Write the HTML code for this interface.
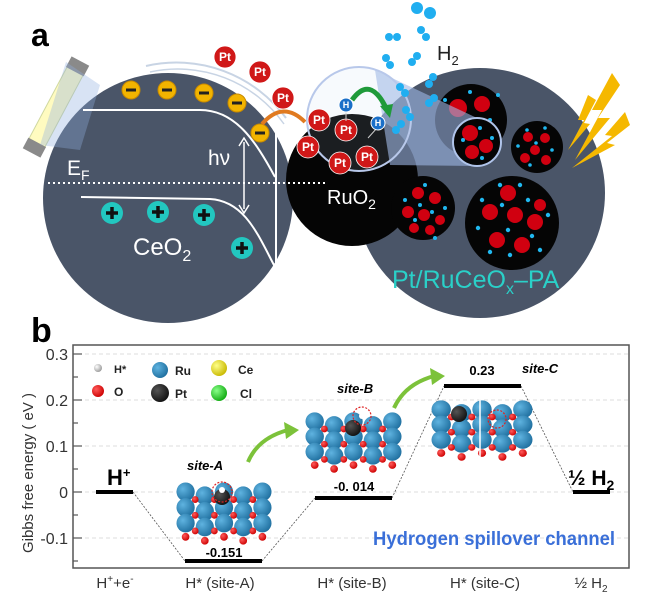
<!DOCTYPE html>
<html><head><meta charset="utf-8"><style>
html,body{margin:0;padding:0;background:#fff;}
svg{display:block;font-family:"Liberation Sans",Arial,sans-serif;}
</style></head><body>
<svg width="650" height="599" viewBox="0 0 650 599" xmlns="http://www.w3.org/2000/svg">
<defs>
<radialGradient id="gb" cx="0.35" cy="0.35" r="0.7"><stop offset="0" stop-color="#5fb3e0"/><stop offset="1" stop-color="#1f6f9f"/></radialGradient>
<radialGradient id="gr" cx="0.35" cy="0.35" r="0.7"><stop offset="0" stop-color="#ff5a5a"/><stop offset="1" stop-color="#c00"/></radialGradient>
<radialGradient id="gk" cx="0.35" cy="0.35" r="0.7"><stop offset="0" stop-color="#555"/><stop offset="1" stop-color="#111"/></radialGradient>
<radialGradient id="gy" cx="0.35" cy="0.35" r="0.7"><stop offset="0" stop-color="#ffff88"/><stop offset="1" stop-color="#c8b800"/></radialGradient>
<radialGradient id="gg" cx="0.35" cy="0.35" r="0.7"><stop offset="0" stop-color="#8f8"/><stop offset="1" stop-color="#1a1"/></radialGradient>
<radialGradient id="gw" cx="0.35" cy="0.35" r="0.7"><stop offset="0" stop-color="#fff"/><stop offset="1" stop-color="#999"/></radialGradient>
<g id="blk">
  <g fill="url(#gb)">
    <circle cx="10" cy="12" r="9.5"/><circle cx="30" cy="16" r="9.5"/><circle cx="50" cy="12" r="9.5"/><circle cx="70" cy="16" r="9.5"/><circle cx="90" cy="12" r="9.5"/>
    <circle cx="10" cy="28" r="9.5"/><circle cx="30" cy="32" r="9.5"/><circle cx="50" cy="28" r="9.5"/><circle cx="70" cy="32" r="9.5"/><circle cx="90" cy="28" r="9.5"/>
    <circle cx="10" cy="44" r="9.5"/><circle cx="30" cy="48" r="9.5"/><circle cx="50" cy="44" r="9.5"/><circle cx="70" cy="48" r="9.5"/><circle cx="90" cy="44" r="9.5"/>
  </g>
  <g fill="url(#gr)">
    <circle cx="20" cy="20" r="3.5"/><circle cx="40" cy="20" r="3.5"/><circle cx="60" cy="20" r="3.5"/><circle cx="80" cy="20" r="3.5"/>
    <circle cx="20" cy="36" r="3.5"/><circle cx="40" cy="36" r="3.5"/><circle cx="60" cy="36" r="3.5"/><circle cx="80" cy="36" r="3.5"/>
    <circle cx="20" cy="52" r="3.5"/><circle cx="40" cy="52" r="3.5"/><circle cx="60" cy="52" r="3.5"/><circle cx="80" cy="52" r="3.5"/>
    <circle cx="10" cy="58" r="4"/><circle cx="30" cy="62" r="4"/><circle cx="50" cy="58" r="4"/><circle cx="70" cy="62" r="4"/><circle cx="90" cy="58" r="4"/>
  </g>
</g>
</defs>

<!-- PANEL A -->
<text x="31" y="46" font-size="32" font-weight="bold">a</text>

<path d="M146,66 A136,136 0 0 1 286,118" fill="none" stroke="#c8d4e4" stroke-width="2"/>
<path d="M150,72 A130,130 0 0 1 284,124" fill="none" stroke="#c8d4e4" stroke-width="1.5"/>

<circle cx="480" cy="193" r="125" fill="#4a5568"/>
<circle cx="168" cy="198" r="125" fill="#4a5568"/>
<circle cx="352" cy="180" r="66" fill="#050505"/>

<!-- lamp -->
<g transform="translate(56,107) rotate(28)">
 <rect x="-9" y="-42" width="18" height="84" fill="#fffbc0" stroke="#cfd8a0"/>
 <rect x="-10" y="-52" width="20" height="12" fill="#8a8a8a"/>
 <rect x="-10" y="40" width="20" height="12" fill="#8a8a8a"/>
</g>
<path d="M66,62 L100,85 L80,150 L40,145 Z" fill="#8fb0e0" opacity="0.35"/>

<!-- bands -->
<path d="M83,110 L200,110 C235,110 255,140 275,177" fill="none" stroke="#fff" stroke-width="2"/>
<path d="M81,197 L210,199 C245,201 258,235 275,267" fill="none" stroke="#fff" stroke-width="2"/>
<line x1="276" y1="130" x2="276" y2="267" stroke="#fff" stroke-width="2"/>
<line x1="48" y1="183" x2="327" y2="183" stroke="#fff" stroke-width="2" stroke-dasharray="2,3"/>
<line x1="244" y1="142" x2="244" y2="209" stroke="#fff" stroke-width="1.5"/>
<path d="M239,146 L244,138 L249,146 M239,205 L244,213 L249,205" fill="none" stroke="#fff" stroke-width="1.5"/>
<text x="208" y="165" font-size="21" fill="#fff">hν</text>
<text x="67" y="175" font-size="21" fill="#fff">E<tspan font-size="14" dy="5">F</tspan></text>
<text x="133" y="255" font-size="24" fill="#fff">CeO<tspan font-size="16" dy="6">2</tspan></text>
<text x="327" y="204" font-size="20" fill="#fff">RuO<tspan font-size="14" dy="5">2</tspan></text>

<g fill="#f2b400" stroke="#c88a00">
<circle cx="131" cy="90" r="9"/><circle cx="167" cy="90" r="9"/><circle cx="204" cy="93" r="9"/><circle cx="237" cy="103" r="9"/><circle cx="260" cy="133" r="9"/>
</g>
<g stroke="#222" stroke-width="3"><line x1="126" y1="90" x2="136" y2="90"/><line x1="162" y1="90" x2="172" y2="90"/><line x1="199" y1="93" x2="209" y2="93"/><line x1="232" y1="103" x2="242" y2="103"/><line x1="255" y1="133" x2="265" y2="133"/></g>
<g fill="#22c7c0"><circle cx="112" cy="213" r="11"/><circle cx="158" cy="212" r="11"/><circle cx="204" cy="215" r="11"/><circle cx="242" cy="248" r="11"/></g>
<g stroke="#111" stroke-width="3.5">
<path d="M106,213 h12 M112,207 v12"/><path d="M152,212 h12 M158,206 v12"/><path d="M198,215 h12 M204,209 v12"/><path d="M236,248 h12 M242,242 v12"/>
</g>

<path d="M262,124 Q283,100 305,122" fill="none" stroke="#e07a20" stroke-width="4"/>

<g>
<circle cx="471" cy="120" r="36" fill="#050505"/>
<circle cx="537" cy="147" r="26" fill="#050505"/>
<circle cx="423" cy="208" r="32" fill="#050505"/>
<circle cx="512" cy="223" r="47" fill="#050505"/>
<g fill="#d00010">
<circle cx="458" cy="108" r="9"/><circle cx="482" cy="104" r="8"/><circle cx="470" cy="128" r="8"/>
<circle cx="528" cy="137" r="5"/><circle cx="545" cy="138" r="5"/><circle cx="535" cy="150" r="5"/><circle cx="525" cy="158" r="5"/><circle cx="546" cy="160" r="5"/>
<circle cx="418" cy="193" r="6"/><circle cx="435" cy="198" r="6"/><circle cx="408" cy="212" r="6"/><circle cx="424" cy="215" r="6"/><circle cx="440" cy="220" r="5"/><circle cx="414" cy="228" r="5"/><circle cx="430" cy="230" r="5"/>
<circle cx="508" cy="193" r="8"/><circle cx="490" cy="212" r="8"/><circle cx="515" cy="215" r="8"/><circle cx="535" cy="222" r="8"/><circle cx="497" cy="240" r="8"/><circle cx="522" cy="245" r="8"/><circle cx="540" cy="205" r="6"/>
</g>
<g fill="#20b8f0">
<circle cx="445" cy="100" r="2"/><circle cx="470" cy="92" r="2"/><circle cx="490" cy="120" r="2"/><circle cx="460" cy="140" r="2"/><circle cx="498" cy="95" r="2"/>
<circle cx="527" cy="130" r="1.8"/><circle cx="536" cy="143" r="1.8"/><circle cx="552" cy="150" r="1.8"/><circle cx="530" cy="165" r="1.8"/><circle cx="518" cy="146" r="1.8"/><circle cx="545" cy="128" r="1.8"/>
<circle cx="425" cy="185" r="2"/><circle cx="405" cy="200" r="2"/><circle cx="445" cy="208" r="2"/><circle cx="415" cy="220" r="2"/><circle cx="435" cy="238" r="2"/><circle cx="420" cy="205" r="2"/><circle cx="432" cy="212" r="2"/>
<circle cx="500" cy="185" r="2.2"/><circle cx="520" cy="185" r="2.2"/><circle cx="482" cy="200" r="2.2"/><circle cx="502" cy="205" r="2.2"/><circle cx="528" cy="200" r="2.2"/><circle cx="548" cy="215" r="2.2"/><circle cx="478" cy="228" r="2.2"/><circle cx="508" cy="230" r="2.2"/><circle cx="532" cy="236" r="2.2"/><circle cx="510" cy="255" r="2.2"/><circle cx="490" cy="252" r="2.2"/><circle cx="540" cy="250" r="2.2"/>
</g>
</g>

<path d="M375,70 L477,118 L477,166 L390,165 Z" fill="#9fb8e6" opacity="0.6"/>
<circle cx="477" cy="142" r="24" fill="#050505" stroke="#b0c4ea" stroke-width="2"/>
<g fill="#d00010"><circle cx="470" cy="133" r="8"/><circle cx="486" cy="146" r="7"/><circle cx="472" cy="152" r="7"/></g>
<g fill="#20b8f0"><circle cx="463" cy="140" r="2"/><circle cx="480" cy="128" r="2"/><circle cx="492" cy="138" r="2"/><circle cx="482" cy="158" r="2"/></g>
<circle cx="359" cy="119" r="52" fill="#c0d4f0" fill-opacity="0.12" stroke="#b8c8ea" stroke-width="2"/>

<g fill="#d01818" stroke="#fff" stroke-width="0.8">
<circle cx="225" cy="57" r="11"/><circle cx="260" cy="72" r="11"/><circle cx="283" cy="98" r="11"/>
<circle cx="319" cy="120" r="11"/><circle cx="346" cy="130" r="11"/><circle cx="308" cy="147" r="11"/><circle cx="340" cy="163" r="11"/><circle cx="367" cy="157" r="11"/>
</g>
<g fill="#fff" font-size="12" font-weight="bold" text-anchor="middle">
<text x="225" y="61">Pt</text><text x="260" y="76">Pt</text><text x="283" y="102">Pt</text>
<text x="319" y="124">Pt</text><text x="346" y="134">Pt</text><text x="308" y="151">Pt</text><text x="340" y="167">Pt</text><text x="367" y="161">Pt</text>
</g>
<line x1="346" y1="112" x2="346" y2="121" stroke="#ccc"/>
<line x1="377" y1="128" x2="368" y2="138" stroke="#ccc"/>
<path d="M352,100 Q370,75 386,108" fill="none" stroke="#1f9a3a" stroke-width="5"/>
<path d="M380,106 L390,118 L393,104 Z" fill="#1f9a3a"/>
<g fill="#1a6fc8" stroke="#fff" stroke-width="1"><circle cx="346" cy="105" r="7"/><circle cx="378" cy="123" r="7"/></g>
<g fill="#fff" font-size="9" font-weight="bold" text-anchor="middle"><text x="346" y="108">H</text><text x="378" y="126">H</text></g>

<g fill="#20aef0">
<circle cx="417" cy="8" r="6"/><circle cx="430" cy="13" r="6"/>
<circle cx="389" cy="37" r="4"/><circle cx="397" cy="37" r="4"/>
<circle cx="421" cy="30" r="4"/><circle cx="426" cy="37" r="4"/>
<circle cx="386" cy="58" r="4"/><circle cx="390" cy="65" r="4"/>
<circle cx="412" cy="62" r="4"/><circle cx="417" cy="56" r="4"/>
<circle cx="433" cy="77" r="4"/><circle cx="429" cy="84" r="4"/>
<circle cx="400" cy="87" r="4"/><circle cx="405" cy="93" r="4"/>
<circle cx="406" cy="110" r="4"/><circle cx="410" cy="117" r="4"/>
<circle cx="396" cy="130" r="4"/><circle cx="401" cy="124" r="4"/>
<circle cx="429" cy="103" r="4"/><circle cx="434" cy="98" r="4"/>
</g>
<text x="437" y="60" font-size="20" fill="#222">H<tspan font-size="13" dy="5">2</tspan></text>

<g fill="#f5b800">
<path d="M612,73 L592,110 L602,110 L575,160 L610,118 L598,118 L620,85 Z"/>
<path d="M625,112 L605,135 L612,136 L572,168 L615,145 L607,143 L630,125 Z"/>
<path d="M588,95 L578,120 L584,120 L568,150 L590,124 L584,123 L596,100 Z"/>
</g>

<text x="392" y="288" font-size="25" fill="#2ad0c8">Pt/RuCeO<tspan font-size="16" dy="6">x</tspan><tspan dy="-6">–PA</tspan></text>

<!-- PANEL B -->
<text x="31" y="342" font-size="34" font-weight="bold">b</text>
<rect x="73" y="345" width="556" height="223" fill="none" stroke="#555" stroke-width="1.5"/>
<g stroke="#ddd" stroke-dasharray="4,3">
<line x1="78" y1="354" x2="628" y2="354"/><line x1="78" y1="400" x2="628" y2="400"/><line x1="78" y1="446" x2="628" y2="446"/><line x1="78" y1="492" x2="628" y2="492"/><line x1="78" y1="538" x2="628" y2="538"/>
</g>
<g stroke="#555" stroke-width="1.2">
<line x1="73" y1="354" x2="82" y2="354"/><line x1="73" y1="400" x2="82" y2="400"/><line x1="73" y1="446" x2="82" y2="446"/><line x1="73" y1="492" x2="82" y2="492"/><line x1="73" y1="538" x2="82" y2="538"/>
<line x1="73" y1="377" x2="78" y2="377"/><line x1="73" y1="423" x2="78" y2="423"/><line x1="73" y1="469" x2="78" y2="469"/><line x1="73" y1="515" x2="78" y2="515"/><line x1="73" y1="561" x2="78" y2="561"/>
</g>
<g font-size="16" fill="#333" text-anchor="end">
<text x="68" y="360">0.3</text><text x="68" y="406">0.2</text><text x="68" y="452">0.1</text><text x="68" y="498">0</text><text x="68" y="544">-0.1</text>
</g>
<text transform="translate(33,473) rotate(-90)" font-size="15" fill="#333" text-anchor="middle">Gibbs free energy ( eV )</text>

<circle cx="98" cy="368" r="4" fill="url(#gw)"/><text x="114" y="373" font-size="11" font-weight="bold" fill="#222">H*</text>
<circle cx="98" cy="391" r="6" fill="url(#gr)"/><text x="114" y="396" font-size="12" font-weight="bold" fill="#222">O</text>
<circle cx="160" cy="370" r="8" fill="url(#gb)"/><text x="175" y="375" font-size="12" font-weight="bold" fill="#222">Ru</text>
<circle cx="160" cy="393" r="9" fill="url(#gk)"/><text x="175" y="398" font-size="12" font-weight="bold" fill="#222">Pt</text>
<circle cx="219" cy="368" r="8" fill="url(#gy)"/><text x="238" y="374" font-size="12" font-weight="bold" fill="#222">Ce</text>
<circle cx="219" cy="393" r="8" fill="url(#gg)"/><text x="240" y="398" font-size="12" font-weight="bold" fill="#222">Cl</text>

<g stroke="#555" stroke-width="0.8" stroke-dasharray="2,1.5" fill="none">
<line x1="133" y1="492" x2="185" y2="561"/><line x1="262" y1="561" x2="315" y2="498"/>
<line x1="392" y1="498" x2="444" y2="386"/><line x1="521" y1="386" x2="573" y2="492"/>
</g>
<g stroke="#000" stroke-width="4">
<line x1="96" y1="492" x2="133" y2="492"/><line x1="185" y1="561" x2="262" y2="561"/>
<line x1="315" y1="498" x2="392" y2="498"/><line x1="444" y1="386" x2="521" y2="386"/>
<line x1="573" y1="492" x2="610" y2="492"/>
</g>

<use href="#blk" transform="translate(176,480) scale(0.96,0.98)"/>
<circle cx="222" cy="497" r="8" fill="url(#gk)"/><circle cx="222" cy="490" r="3" fill="#fff"/>
<circle cx="222" cy="492" r="10" fill="none" stroke="#d22" stroke-width="1.2" stroke-dasharray="2,1.5"/>
<use href="#blk" transform="translate(305,410) scale(0.97,0.95)"/>
<circle cx="353" cy="428" r="8" fill="url(#gk)"/><circle cx="362" cy="416" r="3" fill="#fff"/>
<circle cx="362" cy="416" r="9" fill="none" stroke="#d22" stroke-width="1.2" stroke-dasharray="2,1.5"/>
<use href="#blk" transform="translate(431,398) scale(1.02,0.95)"/>
<circle cx="459" cy="414" r="8" fill="url(#gk)"/>
<line x1="480" y1="398" x2="480" y2="460" stroke="#fff" stroke-width="1.5"/>
<circle cx="497" cy="419" r="9" fill="none" stroke="#d22" stroke-width="1.2" stroke-dasharray="2,1.5"/>

<path d="M248,462 Q258,438 288,430" fill="none" stroke="#7cc23a" stroke-width="4"/>
<path d="M284,422 L299,430 L286,439 Z" fill="#7cc23a"/>
<path d="M394,408 Q405,384 434,376" fill="none" stroke="#7cc23a" stroke-width="4"/>
<path d="M430,368 L445,376 L432,385 Z" fill="#7cc23a"/>

<text x="107" y="485" font-size="22" font-weight="bold">H<tspan font-size="13" dy="-8">+</tspan></text>
<text x="187" y="470" font-size="13" font-weight="bold" font-style="italic">site-A</text>
<text x="337" y="393" font-size="13" font-weight="bold" font-style="italic">site-B</text>
<text x="522" y="373" font-size="13" font-weight="bold" font-style="italic">site-C</text>
<text x="224" y="557" font-size="13" font-weight="bold" text-anchor="middle">-0.151</text>
<text x="354" y="491" font-size="13" font-weight="bold" text-anchor="middle">-0. 014</text>
<text x="482" y="375" font-size="13" font-weight="bold" text-anchor="middle">0.23</text>
<text x="568" y="485" font-size="21" font-weight="bold">½ H<tspan font-size="14" dy="5">2</tspan></text>
<text x="373" y="545" font-size="19" font-weight="bold" fill="#3a6fd8" textLength="242" lengthAdjust="spacingAndGlyphs">Hydrogen spillover channel</text>

<g font-size="15" fill="#333" text-anchor="middle">
<text x="115" y="588">H<tspan font-size="10" dy="-6">+</tspan><tspan dy="6">+e</tspan><tspan font-size="10" dy="-6">-</tspan></text>
<text x="220" y="588">H* (site-A)</text>
<text x="352" y="588">H* (site-B)</text>
<text x="485" y="588">H* (site-C)</text>
<text x="591" y="588">½ H<tspan font-size="10" dy="4">2</tspan></text>
</g>
</svg>
</body></html>
